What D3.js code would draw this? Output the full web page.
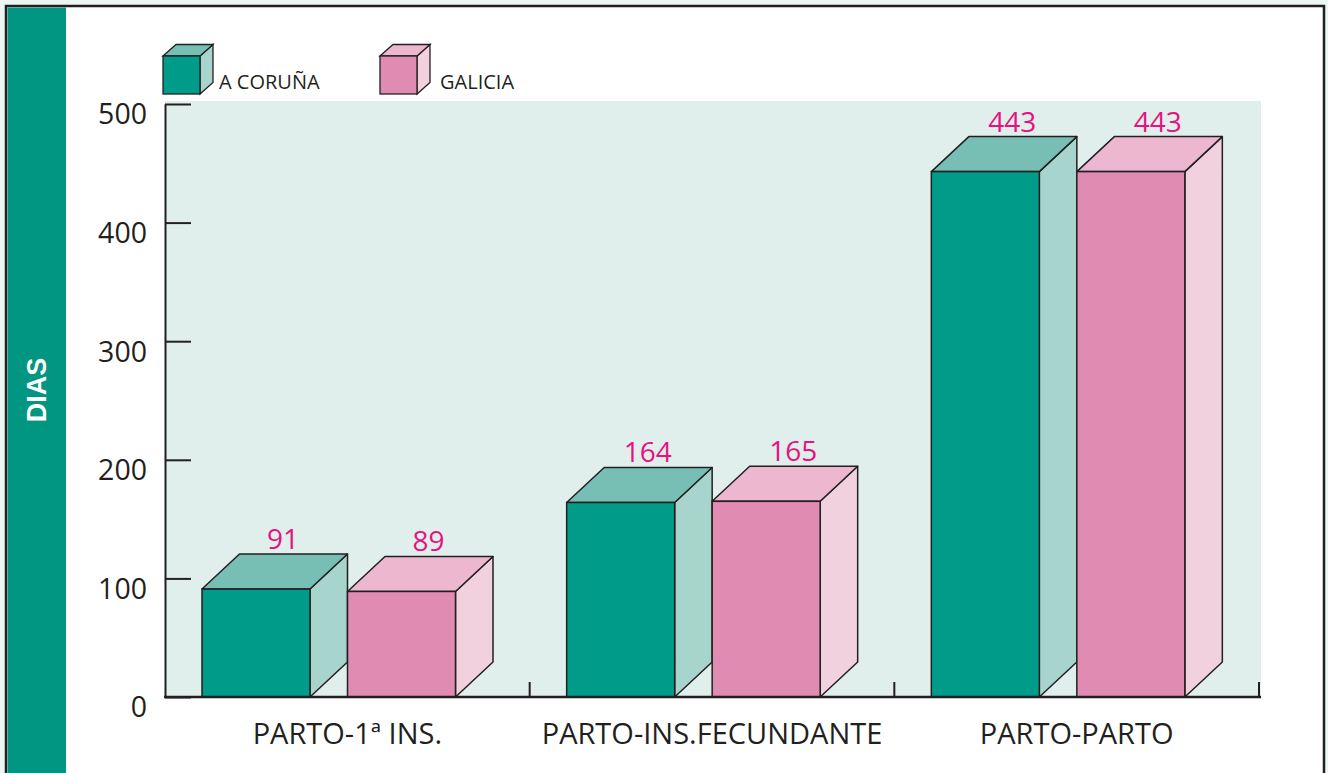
<!DOCTYPE html>
<html>
<head>
<meta charset="utf-8">
<script src="https://cdn.jsdelivr.net/npm/d3@7"></script>
<style>
  html, body { margin: 0; padding: 0; background: #eef6f4; }
  svg { display: block; }
</style>
</head>
<body>
<svg id="chart" width="1328" height="773"></svg>
<script>
// ---- data ----
const categories = ["PARTO-1ª INS.", "PARTO-INS.FECUNDANTE", "PARTO-PARTO"];
const seriesNames = ["A CORUÑA", "GALICIA"];
const coruna = [91, 164, 443];
const galicia = [89, 165, 443];
const yTicks = [0, 100, 200, 300, 400, 500];
const yTitle = "DIAS";

// ---- styles ----
const palette = [
  { front: "#009b89", top: "#77bfb4", side: "#a8d4ce" },
  { front: "#e08bb1", top: "#ecb7cf", side: "#f2d1df" }
];
const ink = "#231f20";
const labelColor = "#e6137f";
const seriesValues = [coruna, galicia];

const svg = d3.select("#chart");

// frame
svg.append("rect").attr("x", 6).attr("y", 6).attr("width", 1318).attr("height", 800)
  .attr("fill", "#ffffff").attr("stroke", ink).attr("stroke-width", 2.5);
svg.append("rect").attr("x", 7.5).attr("y", 7.5).attr("width", 58.5).attr("height", 800)
  .attr("fill", "#009682");
svg.append("text")
  .attr("transform", "translate(37,390) rotate(-90)")
  .attr("text-anchor", "middle").attr("dominant-baseline", "central")
  .attr("font-family", "Liberation Sans, Arial, sans-serif").attr("font-weight", "bold")
  .attr("font-size", 27).attr("fill", "#ffffff").text(yTitle);

// scales
const plot = { left: 165, right: 1259, top: 104, bottom: 697 };
const y = d3.scaleLinear().domain([0, 500]).range([plot.bottom, plot.top]);
const x = d3.scaleBand().domain(categories).range([plot.left, plot.right]).padding(0);

// 3D geometry
const dx = 37.5, dy = 35;
const frontW = 108;
const barOffset = 37;
const xs = d3.scaleBand().domain(seriesNames).range([0, 2 * (frontW + dx)]).padding(0);

// plot background
svg.append("rect").attr("x", plot.left).attr("y", 101)
  .attr("width", 1261 - plot.left).attr("height", plot.bottom - 101)
  .attr("fill", "#e0efec");

// y axis
const yAxis = d3.axisLeft(y).tickValues(yTicks).tickSize(-26).tickSizeOuter(0).tickPadding(18);
const gy = svg.append("g").attr("transform", `translate(${plot.left},0)`).call(yAxis);
gy.select(".domain").attr("stroke", ink).attr("stroke-width", 2);
gy.selectAll(".tick line").attr("stroke", ink).attr("stroke-width", 2);
gy.selectAll(".tick text")
  .attr("font-family", "Open Sans, sans-serif").attr("font-size", 28.5)
  .attr("fill", ink).attr("dy", "0.7em");

// bars
const fmt = d3.format("d");
categories.forEach((cat, ci) => {
  seriesNames.forEach((s, si) => {
    const v = seriesValues[si][ci];
    const x0 = x(cat) + barOffset + xs(s);
    const x1 = x0 + frontW;
    const yT = y(v), yB = y(0);
    const col = palette[si];
    const g = svg.append("g");
    // side
    g.append("path")
      .attr("d", `M${x1},${yT}L${x1 + dx},${yT - dy}L${x1 + dx},${yB - dy}L${x1},${yB}Z`)
      .attr("fill", col.side).attr("stroke", ink).attr("stroke-width", 1.5).attr("stroke-linejoin", "round");
    // top
    g.append("path")
      .attr("d", `M${x0},${yT}L${x0 + dx},${yT - dy}L${x1 + dx},${yT - dy}L${x1},${yT}Z`)
      .attr("fill", col.top).attr("stroke", ink).attr("stroke-width", 1.5).attr("stroke-linejoin", "round");
    // front
    g.append("rect").attr("x", x0).attr("y", yT).attr("width", frontW).attr("height", yB - yT)
      .attr("fill", col.front).attr("stroke", ink).attr("stroke-width", 1.5);
    // value label
    svg.append("text")
      .attr("x", x0 + frontW / 2 + 27).attr("y", yT - dy - 5)
      .attr("text-anchor", "middle")
      .attr("font-family", "Open Sans, sans-serif").attr("font-size", 28)
      .attr("fill", labelColor).text(fmt(v));
  });
});

// x axis
const xAxis = d3.axisBottom(x).tickSize(0).tickPadding(26);
const gx = svg.append("g").attr("transform", `translate(0,${plot.bottom})`).call(xAxis);
gx.select(".domain").remove();
gx.selectAll(".tick text")
  .attr("font-family", "Open Sans, sans-serif").attr("font-size", 29).attr("fill", ink);
svg.append("line").attr("x1", plot.left - 1).attr("x2", 1261).attr("y1", plot.bottom).attr("y2", plot.bottom)
  .attr("stroke", ink).attr("stroke-width", 2.5);
svg.selectAll(".sep").data(categories).enter().append("line")
  .attr("class", "sep")
  .attr("x1", d => x(d) + x.bandwidth()).attr("x2", d => x(d) + x.bandwidth())
  .attr("y1", plot.bottom).attr("y2", plot.bottom - 15)
  .attr("stroke", ink).attr("stroke-width", 2);

// legend
const legend = [{ name: seriesNames[0], x: 163, tx: 219 }, { name: seriesNames[1], x: 380, tx: 440 }];
const lw = 37, lh = 38, ldx = 13, ldy = 11.5, ly = 56;
legend.forEach((l, i) => {
  const col = palette[i];
  const x0 = l.x, x1 = l.x + lw, y0 = ly, y1 = ly + lh;
  svg.append("path")
    .attr("d", `M${x1},${y0}L${x1 + ldx},${y0 - ldy}L${x1 + ldx},${y1 - ldy}L${x1},${y1}Z`)
    .attr("fill", col.side).attr("stroke", ink).attr("stroke-width", 1.3);
  svg.append("path")
    .attr("d", `M${x0},${y0}L${x0 + ldx},${y0 - ldy}L${x1 + ldx},${y0 - ldy}L${x1},${y0}Z`)
    .attr("fill", col.top).attr("stroke", ink).attr("stroke-width", 1.3);
  svg.append("rect").attr("x", x0).attr("y", y0).attr("width", lw).attr("height", lh)
    .attr("fill", col.front).attr("stroke", ink).attr("stroke-width", 1.3);
  svg.append("text").attr("x", l.tx).attr("y", 89)
    .attr("font-family", "Open Sans, sans-serif").attr("font-size", 20)
    .attr("fill", ink).text(l.name);
});
</script>
</body>
</html>
